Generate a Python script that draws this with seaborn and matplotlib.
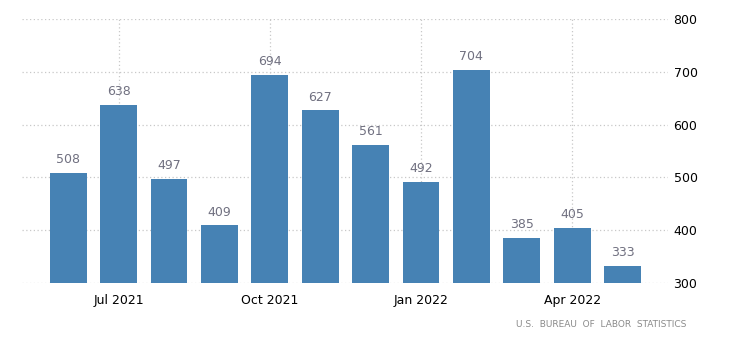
import matplotlib
matplotlib.use("Agg")
import matplotlib.pyplot as plt
import seaborn as sns
import pandas as pd

months = ["Jun 2021", "Jul 2021", "Aug 2021", "Sep 2021", "Oct 2021", "Nov 2021",
          "Dec 2021", "Jan 2022", "Feb 2022", "Mar 2022", "Apr 2022", "May 2022"]
values = [508, 638, 497, 409, 694, 627, 561, 492, 704, 385, 405, 333]
tick_labels = ["Jul 2021", "Oct 2021", "Jan 2022", "Apr 2022"]
y_ticks = [300, 400, 500, 600, 700, 800]

sns.set_style("white")
plt.rcParams['font.family'] = ['DejaVu Sans']

df = pd.DataFrame({"month": months, "value": values})

fig = plt.figure(figsize=(7.3, 3.42), dpi=100)
ax = fig.add_axes([0.030, 0.1725, 0.885, 0.7715])

sns.barplot(data=df, x="month", y="value", order=months, color="#4682B4",
            saturation=1, width=0.73, ax=ax, zorder=3, linewidth=0, edgecolor="none")

for i, c in enumerate(ax.containers):
    ax.bar_label(c, labels=[str(v) for v in values], padding=5,
                 fontsize=9, color="#707080")

ax.set_ylim(300, 800)
ax.set_xlim(-0.92, 11.9)
ax.set_yticks(y_ticks)
ax.set_yticklabels([str(t) for t in y_ticks], fontsize=9, color="black")
ax.yaxis.tick_right()
ax.tick_params(axis="y", length=0, pad=4)

tick_pos = [months.index(t) for t in tick_labels]
ax.set_xticks(tick_pos)
ax.set_xticklabels(tick_labels, fontsize=9, color="black")
ax.tick_params(axis="x", length=4, color="#cccccc", pad=4)

ax.set_xlabel("")
ax.set_ylabel("")
for s in ax.spines.values():
    s.set_visible(False)

ax.grid(True, axis="both", linestyle=(0, (1, 2)), color="#c8c8c8", linewidth=0.9, zorder=0)
ax.set_axisbelow(True)

fig.text(0.94, 0.05, "U.S.  BUREAU  OF  LABOR  STATISTICS", ha="right", va="center",
         fontsize=6.5, color="#8a8a8a")

fig.savefig("out.png", dpi=100)
